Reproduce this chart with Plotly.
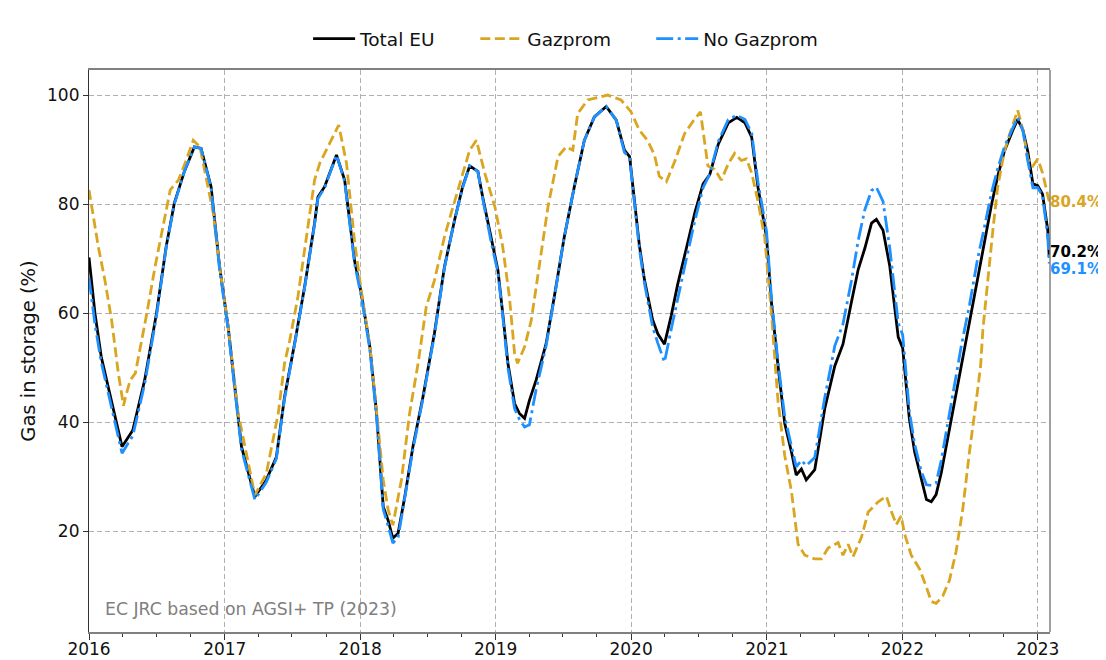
import plotly.graph_objects as go

# ---------------- data ----------------
total_dates = [
    "2016-01-01", "2016-01-17", "2016-02-03", "2016-03-01", "2016-03-30", "2016-04-28", "2016-05-30",
    "2016-07-01", "2016-07-27", "2016-08-18", "2016-09-14", "2016-10-11", "2016-10-29", "2016-11-25",
    "2016-12-18", "2017-01-10", "2017-01-23", "2017-02-15", "2017-03-23", "2017-04-23", "2017-05-20",
    "2017-06-11", "2017-07-08", "2017-08-04", "2017-08-31", "2017-09-09", "2017-09-27", "2017-10-29",
    "2017-11-20", "2017-12-17", "2018-01-04", "2018-01-27", "2018-02-14", "2018-03-04", "2018-03-17",
    "2018-03-30", "2018-04-13", "2018-05-01", "2018-05-23", "2018-06-19", "2018-07-20", "2018-08-16",
    "2018-09-12", "2018-10-04", "2018-10-23", "2018-11-14", "2018-11-27", "2018-12-20", "2019-01-07",
    "2019-01-20", "2019-02-03", "2019-02-21", "2019-03-06", "2019-03-20", "2019-04-02", "2019-04-20",
    "2019-05-17", "2019-06-08", "2019-07-05", "2019-08-01", "2019-08-28", "2019-09-24", "2019-10-26",
    "2019-11-22", "2019-12-14", "2019-12-28", "2020-01-10", "2020-01-23", "2020-02-06", "2020-02-28",
    "2020-03-13", "2020-03-31", "2020-04-18", "2020-05-06", "2020-05-29", "2020-06-21", "2020-07-13",
    "2020-07-31", "2020-08-23", "2020-09-19", "2020-10-12", "2020-11-03", "2020-11-21", "2020-12-08",
    "2020-12-31", "2021-01-13", "2021-01-31", "2021-02-18", "2021-03-08", "2021-03-21", "2021-04-04",
    "2021-04-17", "2021-05-10", "2021-06-06", "2021-07-03", "2021-07-25", "2021-08-17", "2021-09-04",
    "2021-09-22", "2021-10-10", "2021-10-23", "2021-11-10", "2021-11-28", "2021-12-21", "2022-01-02",
    "2022-01-20", "2022-02-03", "2022-02-21", "2022-03-07", "2022-03-20", "2022-04-02", "2022-04-16",
    "2022-05-04", "2022-05-22", "2022-06-09", "2022-07-01", "2022-07-23", "2022-08-11", "2022-08-29",
    "2022-09-15", "2022-10-03", "2022-10-26", "2022-11-08", "2022-11-22", "2022-12-05", "2022-12-19",
    "2023-01-01", "2023-01-14", "2023-01-28", "2023-02-01",
]
total_vals = [
    70.2, 60.0, 52.0, 44.0, 35.5, 38.5, 47.7,
    60.0, 72.2, 80.2, 86.0, 90.5, 90.2, 83.2,
    68.5, 57.5, 49.5, 35.5, 26.3, 29.4, 33.6,
    44.6, 54.4, 64.8, 76.5, 81.3, 83.2, 89.0,
    84.4, 69.5, 63.6, 53.8, 41.6, 24.5, 22.0,
    18.7, 19.6, 26.3, 35.5, 44.6, 56.3, 68.5,
    77.0, 83.2, 87.0, 86.0, 81.3, 73.4, 67.9,
    60.0, 50.8, 43.4, 41.6, 40.7, 44.0, 47.7,
    54.4, 63.0, 74.0, 83.2, 91.7, 96.0, 97.9,
    95.4, 89.9, 88.7, 81.1, 72.6, 66.1, 58.8,
    56.2, 54.3, 59.5, 65.4, 71.9, 78.5, 83.7,
    85.4, 91.0, 94.9, 95.9, 94.9, 92.3, 83.1,
    73.9, 62.1, 50.3, 39.8, 34.6, 30.3, 31.4,
    29.4, 31.3, 42.5, 50.3, 54.3, 62.1, 68.0,
    71.9, 76.5, 77.2, 75.2, 68.7, 55.6, 53.6,
    40.6, 34.6, 29.4, 25.8, 25.4, 26.7, 30.7,
    37.2, 43.8, 50.3, 58.2, 66.7, 73.3, 79.8,
    85.1, 89.7, 93.6, 95.5, 93.6, 89.7, 83.7,
    83.4, 81.8, 75.2, 70.2,
]

nogaz_dates = total_dates
nogaz_vals = [
    66.5, 58.0, 51.0, 43.0, 34.3, 37.5, 47.0,
    59.5, 72.0, 80.0, 86.0, 90.5, 90.2, 83.0,
    68.0, 57.0, 49.0, 35.0, 25.8, 29.0, 33.3,
    44.3, 54.2, 64.6, 76.3, 81.0, 83.0, 89.0,
    84.2, 69.0, 63.0, 53.3, 41.0, 24.0, 21.0,
    17.8, 18.8, 25.8, 35.0, 44.3, 56.0, 68.3,
    77.0, 83.0, 87.0, 86.0, 81.0, 73.0, 67.5,
    59.5, 50.0, 42.5, 40.5, 39.1, 39.5, 46.0,
    54.0, 62.8, 74.0, 83.2, 91.7, 96.0, 97.9,
    95.4, 89.5, 88.5, 80.5, 72.0, 65.5, 57.5,
    54.5, 51.0, 57.0, 63.0, 70.0, 77.0, 83.0,
    85.5, 91.5, 95.5, 96.3, 95.5, 93.0, 84.0,
    75.0, 63.0, 51.0, 41.0, 35.5, 31.8, 33.0,
    32.0, 33.5, 44.5, 54.0, 58.0, 66.0, 73.3,
    79.0, 82.5, 83.1, 80.5, 72.0, 58.2, 56.0,
    42.0, 36.0, 31.0, 28.5, 28.4, 28.8, 33.0,
    40.0, 47.0, 54.0, 61.5, 70.0, 76.0, 82.0,
    86.5, 90.5, 94.0, 95.9, 93.5, 88.0, 83.0,
    83.0, 81.5, 74.0, 69.1,
]

gazprom_dates = [
    "2016-01-01", "2016-01-26", "2016-02-13", "2016-03-02", "2016-03-20", "2016-04-03", "2016-04-08",
    "2016-04-21", "2016-05-05", "2016-05-23", "2016-06-05", "2016-06-27", "2016-07-20", "2016-08-07",
    "2016-08-29", "2016-09-16", "2016-10-08", "2016-10-26", "2016-11-13", "2016-12-01", "2016-12-18",
    "2017-01-10", "2017-02-06", "2017-03-23", "2017-04-23", "2017-05-25", "2017-06-11", "2017-06-25",
    "2017-07-17", "2017-08-09", "2017-08-31", "2017-09-14", "2017-10-15", "2017-11-04", "2017-11-25",
    "2017-12-17", "2018-01-04", "2018-01-27", "2018-02-14", "2018-03-04", "2018-03-17", "2018-03-30",
    "2018-04-22", "2018-05-14", "2018-06-06", "2018-06-28", "2018-07-20", "2018-08-16", "2018-09-08",
    "2018-09-30", "2018-10-23", "2018-11-10", "2018-12-03", "2018-12-30", "2019-01-20", "2019-02-07",
    "2019-02-21", "2019-03-01", "2019-03-20", "2019-04-07", "2019-04-29", "2019-05-22", "2019-06-18",
    "2019-07-10", "2019-07-28", "2019-08-10", "2019-09-06", "2019-10-30", "2019-12-05", "2020-01-01",
    "2020-01-23", "2020-02-15", "2020-03-04", "2020-03-17", "2020-04-05", "2020-04-27", "2020-05-24",
    "2020-06-16", "2020-07-06", "2020-07-17", "2020-07-26", "2020-08-13", "2020-08-31", "2020-09-19",
    "2020-10-06", "2020-10-24", "2020-11-07", "2020-11-21", "2020-12-08", "2020-12-26", "2021-01-13",
    "2021-01-31", "2021-02-18", "2021-03-08", "2021-03-26", "2021-04-13", "2021-05-10", "2021-05-28",
    "2021-06-15", "2021-07-12", "2021-07-25", "2021-08-08", "2021-08-21", "2021-09-13", "2021-10-01",
    "2021-10-28", "2021-11-19", "2021-12-03", "2021-12-16", "2021-12-29", "2022-01-07", "2022-01-25",
    "2022-02-17", "2022-03-07", "2022-03-20", "2022-04-02", "2022-04-20", "2022-05-08", "2022-05-26",
    "2022-06-13", "2022-07-01", "2022-07-19", "2022-07-31", "2022-08-06", "2022-08-19", "2022-09-02",
    "2022-09-15", "2022-10-03", "2022-10-21", "2022-11-08", "2022-11-22", "2022-12-05", "2022-12-19",
    "2023-01-01", "2023-01-14", "2023-02-01",
]
gazprom_vals = [
    82.6, 72.2, 66.0, 58.7, 49.0, 43.0, 44.5,
    47.7, 49.0, 55.0, 60.0, 68.5, 76.5, 82.6,
    84.4, 87.5, 91.7, 90.5, 84.4, 78.3, 68.5,
    57.5, 41.6, 26.6, 30.6, 41.6, 50.8, 55.0,
    63.0, 74.0, 84.4, 87.5, 91.7, 94.5, 87.5,
    73.0, 64.0, 54.0, 42.0, 29.4, 24.0, 21.1,
    29.4, 41.6, 50.8, 61.2, 66.0, 74.0, 79.5,
    84.4, 89.9, 91.7, 85.6, 79.5, 72.2, 63.0,
    52.6, 50.8, 53.8, 58.7, 69.1, 79.5, 88.7,
    90.5, 89.9, 96.6, 99.1, 100.0, 99.1, 96.9,
    93.6, 91.6, 89.0, 85.1, 84.1, 87.7, 92.9,
    95.2, 96.9, 91.0, 87.0, 86.4, 84.4, 87.4,
    89.3, 88.0, 88.3, 85.7, 80.5, 73.9, 60.2,
    43.8, 33.9, 27.4, 17.6, 15.6, 14.9, 14.9,
    16.9, 17.9, 15.6, 17.6, 15.3, 18.9, 23.5,
    25.4, 26.4, 23.5, 21.2, 22.8, 19.5, 15.6,
    13.0, 9.7, 7.1, 6.75, 8.1, 11.0, 16.3,
    24.1, 34.6, 43.8, 50.3, 56.9, 66.1, 75.2,
    83.1, 89.7, 93.6, 97.2, 93.6, 88.3, 87.0,
    88.3, 85.7, 80.4,
]

series_names = ["Total EU", "Gazprom", "No Gazprom"]
end_labels = ["70.2%", "80.4%", "69.1%"]
year_ticks = ["2016", "2017", "2018", "2019", "2020", "2021", "2022", "2023"]
y_ticks = [20, 40, 60, 80, 100]
source_text = "EC JRC based on AGSI+ TP (2023)"

# ---------------- styles ----------------
BLACK = "#000000"
GOLD = "#DAA520"
BLUE = "#1E90FF"
FONT = "DejaVu Sans"
LEG_FONT = dict(family=FONT, size=18.5, color="#111111")

fig = go.Figure()
fig.add_trace(go.Scatter(x=total_dates, y=total_vals, name=series_names[0], mode="lines",
                         line=dict(color=BLACK, width=2.8), legend="legend"))
fig.add_trace(go.Scatter(x=gazprom_dates, y=gazprom_vals, name=series_names[1], mode="lines",
                         line=dict(color=GOLD, width=2.8, dash="10px,4.5px"), legend="legend2"))
fig.add_trace(go.Scatter(x=nogaz_dates, y=nogaz_vals, name=series_names[2], mode="lines",
                         line=dict(color=BLUE, width=2.8, dash="17px,4.5px,3px,4.5px"), legend="legend3"))

# end-value labels
fig.add_annotation(x=total_dates[-1], y=total_vals[-1], text="<b>%s</b>" % end_labels[0],
                   showarrow=False, xanchor="left", yanchor="middle", xshift=-1, yshift=6,
                   font=dict(family=FONT, size=15, color=BLACK))
fig.add_annotation(x=gazprom_dates[-1], y=gazprom_vals[-1], text="<b>%s</b>" % end_labels[1],
                   showarrow=False, xanchor="left", yanchor="middle", xshift=-1,
                   font=dict(family=FONT, size=15, color=GOLD))
fig.add_annotation(x=nogaz_dates[-1], y=nogaz_vals[-1], text="<b>%s</b>" % end_labels[2],
                   showarrow=False, xanchor="left", yanchor="middle", xshift=-1, yshift=-5,
                   font=dict(family=FONT, size=15, color=BLUE))

# source note
fig.add_annotation(x=0.015, y=0.041, xref="paper", yref="paper", text=source_text,
                   showarrow=False, xanchor="left", yanchor="middle",
                   font=dict(family=FONT, size=17.3, color="#808080"))

# right spine (gray)
fig.add_shape(type="line", xref="paper", yref="paper", x0=1, x1=1, y0=0, y1=1,
              line=dict(color="#808080", width=1.5))

fig.update_xaxes(
    type="date",
    range=["2016-01-01", "2023-02-03"],
    tickvals=[y + "-01-01" for y in year_ticks],
    ticktext=year_ticks,
    showgrid=True, gridcolor="#b0b0b0", griddash="5px,3px", gridwidth=1,
    ticks="outside", ticklen=6, tickwidth=1.2, tickcolor="#333333",
    ticklabelstandoff=-5,
    minor=dict(dtick="M3", tick0="2016-01-01", ticks="outside", ticklen=3.5,
               tickwidth=1, tickcolor="#333333", showgrid=False),
    showline=True, linecolor="#808080", linewidth=1.5, mirror=True,
    tickfont=dict(family=FONT, size=17, color="#111111"),
    zeroline=False,
)
fig.update_yaxes(
    range=[1.5, 104.6],
    tickvals=y_ticks,
    showgrid=True, gridcolor="#b0b0b0", griddash="5px,3px", gridwidth=1,
    ticks="outside", ticklen=5, tickwidth=1.2, tickcolor="#333333",
    showline=True, linecolor="#333333", linewidth=1.2, mirror=False,
    tickfont=dict(family=FONT, size=17, color="#111111"),
    title=dict(text="Gas in storage (%)", font=dict(family=FONT, size=19.5, color="#111111"), standoff=6),
    zeroline=False,
)

leg_common = dict(orientation="h", y=1.055, yanchor="middle", xanchor="left",
                  font=LEG_FONT, bgcolor="rgba(0,0,0,0)", itemwidth=42)
fig.update_layout(
    width=1098, height=652,
    margin=dict(l=81, r=56, t=62, b=28, autoexpand=False),
    paper_bgcolor="white", plot_bgcolor="white",
    font=dict(family=FONT),
    showlegend=True,
    legend=dict(x=0.228, **leg_common),
    legend2=dict(x=0.402, **leg_common),
    legend3=dict(x=0.585, **leg_common),
)

fig.write_html("out.html")
